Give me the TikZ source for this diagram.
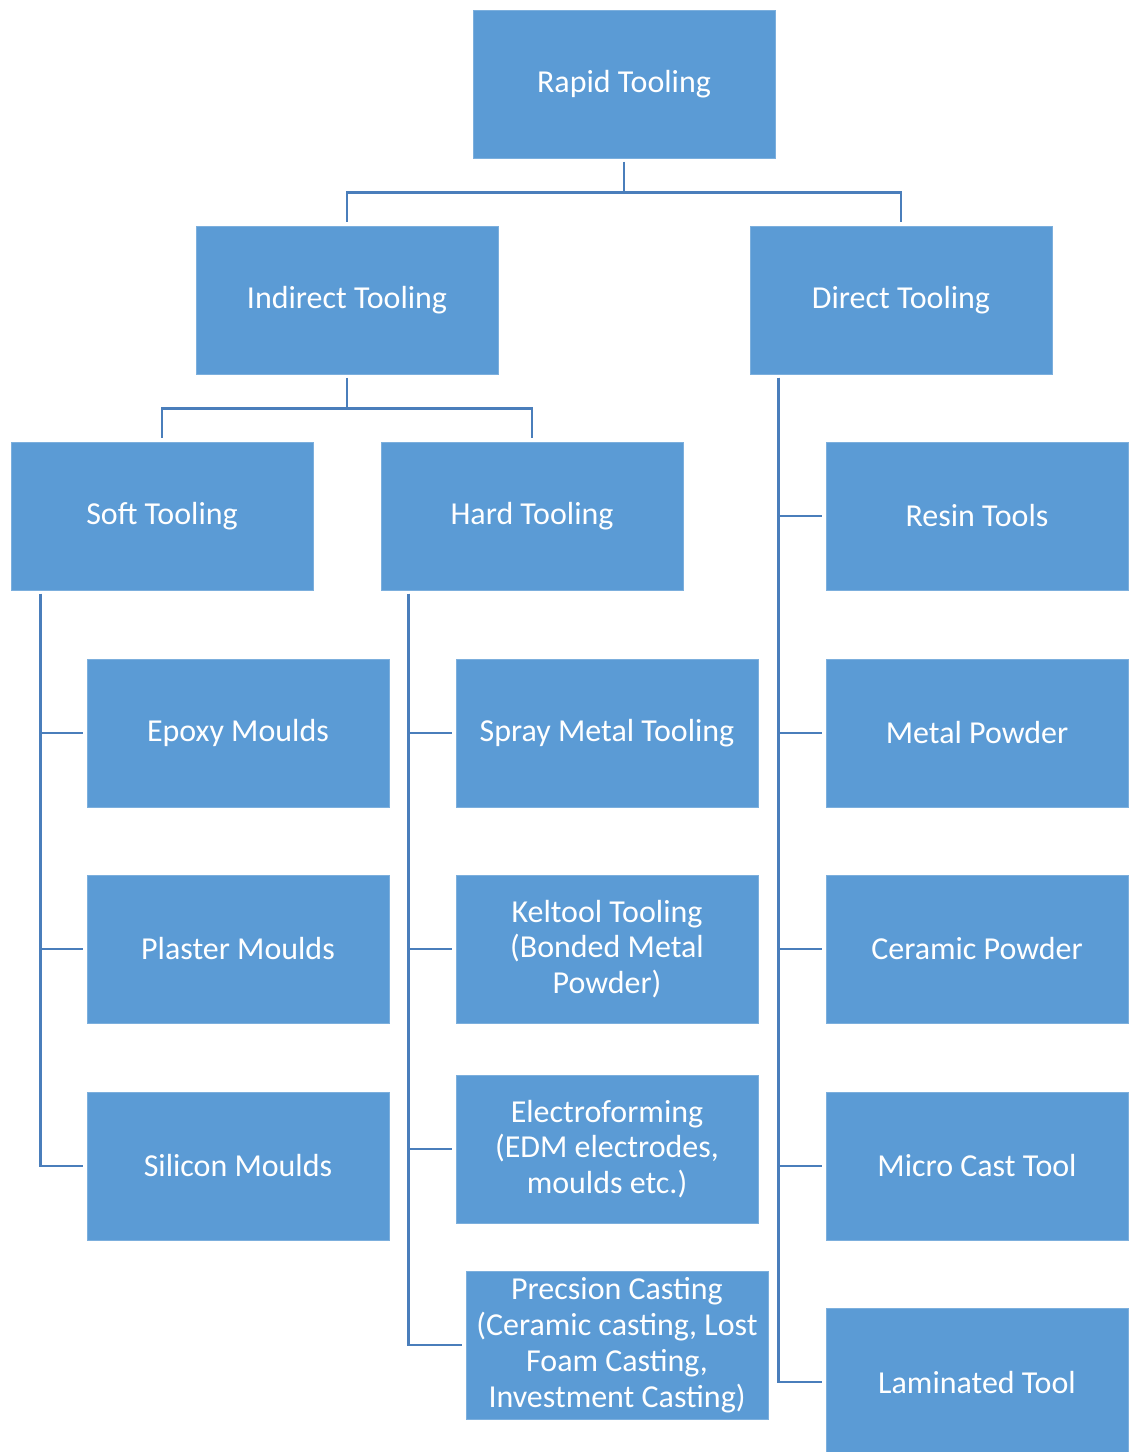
\documentclass[tikz,border=0pt]{standalone}
\usepackage{fontspec}
\setmainfont{Carlito}
\usetikzlibrary{calc}

\definecolor{boxblue}{HTML}{5B9BD5}
\definecolor{lineblue}{HTML}{4A7EBB}

\begin{document}
\begin{tikzpicture}[x=0.02cm, y=-0.02cm,
  box/.style={fill=boxblue, draw=boxblue!80!white, line width=0.4pt, text=white,
    minimum width=6.04cm, minimum height=2.96cm, align=center,
    font=\fontsize{18.2}{20.4}\selectfont, inner sep=2pt},
  link/.style={draw=lineblue, line width=1.6pt, shorten <=2pt, shorten >=2pt}]
\useasboundingbox (0,0) rectangle (1130,1452);
\foreach \n/\x/\y/\t in {
  root/624/84/{Rapid Tooling},
  ind/347/300/{Indirect Tooling},
  dir/901/300/{Direct Tooling},
  soft/162/516/{Soft Tooling},
  hard/532/516/{Hard Tooling},
  resin/977/516/{Resin Tools},
  epoxy/238/733/{Epoxy Moulds},
  spray/607/733/{Spray Metal Tooling},
  metal/977/733/{Metal Powder},
  plaster/238/949/{Plaster Moulds},
  kel/607/949/{Keltool Tooling\\(Bonded Metal\\Powder)},
  ceramic/977/949/{Ceramic Powder},
  silicon/238/1166/{Silicon Moulds},
  electro/607/1149/{Electroforming\\(EDM electrodes,\\moulds etc.)},
  micro/977/1166/{Micro Cast Tool},
  prec/617/1345/{Precsion Casting\\(Ceramic casting, Lost\\Foam Casting,\\Investment Casting)},
  lam/977/1382/{Laminated Tool}}{
  \node[box] (\n) at (\x,\y) {\t};
}
\draw[link] (root.south) -- ++(0,34) -| (ind.north);
\draw[link] (root.south) -- ++(0,34) -| (dir.north);
\draw[link] (ind.south) -- ++(0,34) -| (soft.north);
\draw[link] (ind.south) -- ++(0,34) -| (hard.north);
\foreach \c in {epoxy,plaster,silicon}{
  \draw[link] ([xshift=0.6cm]soft.south west) |- (\c.west);
}
\foreach \c in {spray,kel,electro,prec}{
  \draw[link] ([xshift=0.56cm]hard.south west) |- (\c.west);
}
\foreach \c in {resin,metal,ceramic,micro,lam}{
  \draw[link] ([xshift=0.58cm]dir.south west) |- (\c.west);
}
\end{tikzpicture}
\end{document}
